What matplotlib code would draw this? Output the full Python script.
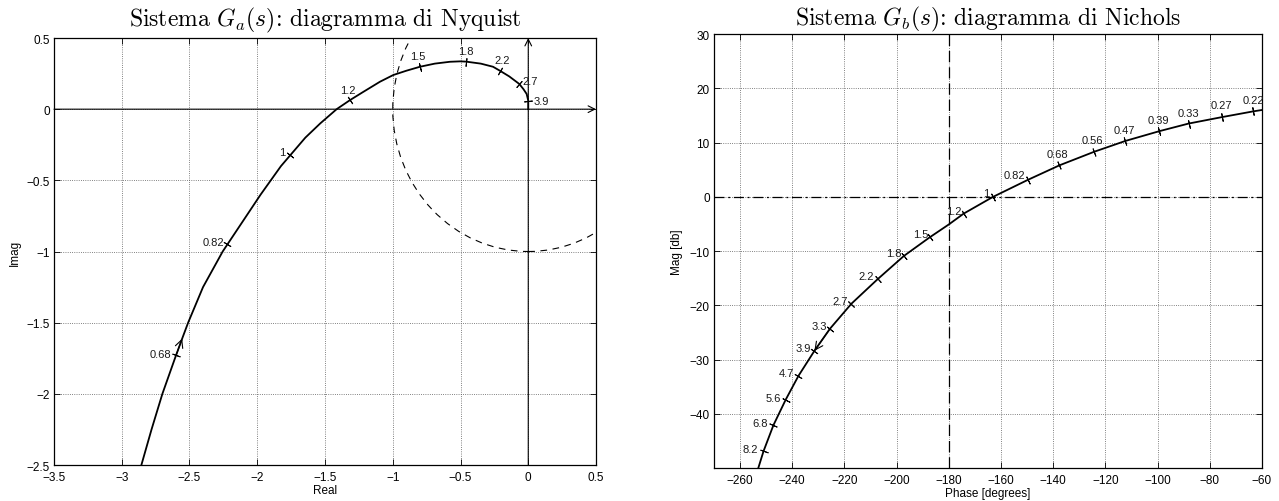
import matplotlib
matplotlib.use("Agg")
import matplotlib.pyplot as plt
from matplotlib.patches import Circle
from matplotlib.ticker import FuncFormatter
import numpy as np

plt.rcParams['font.family'] = ['Liberation Sans', 'DejaVu Sans']
plt.rcParams['mathtext.fontset'] = 'cm'

# Nyquist di G_a(jw): punti della curva (parte reale, parte immaginaria)
nyq_re = [-2.855, -2.780, -2.700, -2.607, -2.599, -2.554, -2.510, -2.400, -2.255, -2.115,
          -1.975, -1.825, -1.645, -1.535, -1.414, -1.315, -1.220, -1.094, -0.996, -0.900,
          -0.799, -0.690, -0.578, -0.500, -0.459, -0.350, -0.260, -0.209, -0.140, -0.066,
          -0.035, -0.012, 0.000, 0.000]
nyq_im = [-2.500, -2.250, -2.000, -1.750, -1.729, -1.612, -1.500, -1.250, -1.000, -0.800,
          -0.600, -0.400, -0.200, -0.100, 0.000, 0.064, 0.120, 0.193, 0.240, 0.270,
          0.298, 0.320, 0.333, 0.336, 0.334, 0.320, 0.298, 0.270, 0.230, 0.177,
          0.140, 0.107, 0.060, 0.000]

# pulsazioni marcate sul diagramma di Nyquist
nyq_w = ['0.68', '0.82', '1', '1.2', '1.5', '1.8', '2.2', '2.7', '3.9']
nyq_w_re = [-2.599, -2.220, -1.755, -1.315, -0.799, -0.459, -0.209, -0.066, 0.000]
nyq_w_im = [-1.729, -0.946, -0.319, 0.064, 0.298, 0.334, 0.270, 0.177, 0.060]

# Nichols di G_b(jw): fase [gradi], modulo [db]
nic_ph = [-253.0, -251.0, -247.2, -242.5, -237.6, -231.5, -225.5, -217.3, -207.3, -197.2,
          -187.4, -180.0, -174.3, -163.2, -149.8, -137.6, -124.3, -112.3, -99.3, -88.1,
          -75.2, -63.3, -60.0]
nic_mag = [-50.0, -46.9, -42.1, -37.4, -33.0, -28.4, -24.3, -19.7, -15.2, -10.9,
           -7.5, -5.1, -3.1, -0.05, 3.1, 5.8, 8.3, 10.3, 12.1, 13.5,
           14.7, 15.75, 16.0]

nic_w = ['0.22', '0.27', '0.33', '0.39', '0.47', '0.56', '0.68', '0.82', '1', '1.2',
         '1.5', '1.8', '2.2', '2.7', '3.3', '3.9', '4.7', '5.6', '6.8', '8.2']
nic_w_ph = [-63.3, -75.2, -88.1, -99.3, -112.3, -124.3, -137.6, -149.8, -163.2, -174.3,
            -187.4, -197.2, -207.3, -217.3, -225.5, -231.5, -237.6, -242.5, -247.2, -251.0]
nic_w_mag = [15.75, 14.7, 13.5, 12.1, 10.3, 8.3, 5.8, 3.1, -0.05, -3.1,
             -7.5, -10.9, -15.2, -19.7, -24.3, -28.4, -33.0, -37.4, -42.1, -46.9]

# spostamento delle etichette rispetto al tick (pixel)
nyq_off = [(-16, 1), (-14, 2), (-8, 3), (-2, 10), (-2, 11), (0, 11), (2, 11), (11, 3), (13, 0)]
nic_off = [(0, 11), (-1, 12), (0, 11), (-1, 11), (-1, 11), (-2, 12), (-2, 11), (-13, 5), (-6, 4),
           (-10, 3), (-9, 3), (-10, 3), (-11, 3), (-11, 3), (-11, 3), (-11, 3), (-12, 3),
           (-12, 2), (-13, 2), (-13, 2)]

tick_fs = 8.5
lab_fs = 8

fig = plt.figure(figsize=(12.79, 5.02), dpi=100)
ax0 = fig.add_axes([0.0422, 0.0717, 0.4238, 0.8506])
ax1 = fig.add_axes([0.5582, 0.0657, 0.4285, 0.8645])


def fmt(v, pos):
    s = '%g' % v
    return s.replace('-', '\u2212')


def setup(ax):
    ax.grid(True, linestyle=':', color='0.35', linewidth=0.6)
    ax.set_axisbelow(True)
    ax.tick_params(direction='in', length=4, width=0.6, labelsize=tick_fs,
                   top=True, right=True, pad=4)
    ax.tick_params(axis='y', pad=3)
    ax.xaxis.set_major_formatter(FuncFormatter(fmt))
    ax.yaxis.set_major_formatter(FuncFormatter(fmt))
    for sp in ax.spines.values():
        sp.set_linewidth(0.9)


def tick_angles(ax, cx, cy, px, py):
    pts = ax.transData.transform(np.column_stack([cx, cy]))
    out = []
    for x, y in zip(px, py):
        p = ax.transData.transform((x, y))
        i = int(np.argmin(np.hypot(pts[:, 0] - p[0], pts[:, 1] - p[1])))
        a = pts[max(i - 1, 0)]
        b = pts[min(i + 1, len(pts) - 1)]
        out.append(np.degrees(np.arctan2(b[1] - a[1], b[0] - a[0])))
    return out


def mark_freqs(ax, cx, cy, px, py, names, offs):
    angs = tick_angles(ax, cx, cy, px, py)
    for x, y, t, a, o in zip(px, py, names, angs, offs):
        ax.plot(x, y, marker=(2, 2, a), ms=6, mew=0.7, color='k', zorder=4)
        ax.annotate(t, (x, y), xytext=o, textcoords='offset pixels',
                    ha='center', va='center', fontsize=lab_fs, color='0.1')


# ---- Nyquist ----
setup(ax0)
ax0.set_xlim(-3.5, 0.5)
ax0.set_ylim(-2.5, 0.5)
ax0.set_xticks(np.arange(-3.5, 0.51, 0.5))
ax0.set_yticks(np.arange(-2.5, 0.51, 0.5))

ax0.annotate('', xy=(0.5, 0), xytext=(-3.5, 0),
             arrowprops=dict(arrowstyle='->', lw=0.8, color='k', shrinkA=0, shrinkB=0,
                             mutation_scale=12))
ax0.annotate('', xy=(0, 0.5), xytext=(0, -2.5),
             arrowprops=dict(arrowstyle='->', lw=0.8, color='k', shrinkA=0, shrinkB=0,
                             mutation_scale=12))
ax0.add_patch(Circle((0, 0), 1, fill=False, linestyle=(0, (6, 5)), linewidth=0.8, color='k'))
ax0.plot(nyq_re, nyq_im, color='k', lw=1.3, zorder=3)
ax0.annotate('', xy=(nyq_re[5], nyq_im[5]), xytext=(nyq_re[4], nyq_im[4]),
             arrowprops=dict(arrowstyle='->', lw=0.8, color='k', shrinkA=0, shrinkB=0,
                             mutation_scale=14))
mark_freqs(ax0, nyq_re, nyq_im, nyq_w_re, nyq_w_im, nyq_w, nyq_off)

ax0.set_xlabel('Real', fontsize=tick_fs, labelpad=1)
ax0.set_ylabel('Imag', fontsize=tick_fs, labelpad=4)
ax0.set_title(r'Sistema $G_a(s)$: diagramma di Nyquist', fontsize=17, family='cmr10', pad=9)

# ---- Nichols ----
setup(ax1)
ax1.set_xlim(-270, -60)
ax1.set_ylim(-50, 30)
ax1.set_xticks(np.arange(-260, -59, 20))
ax1.set_yticks(np.arange(-40, 31, 10))

ax1.axvline(-180, color='k', linestyle=(0, (9, 4)), lw=0.9)
ax1.axhline(0, color='k', linestyle=(0, (8, 3, 1.5, 3)), lw=0.9)
ax1.plot(nic_ph, nic_mag, color='k', lw=1.3, zorder=3)
ax1.annotate('', xy=(nic_w_ph[15], nic_w_mag[15]), xytext=(nic_w_ph[14], nic_w_mag[14]),
             arrowprops=dict(arrowstyle='->', lw=0.8, color='k', shrinkA=0, shrinkB=0,
                             mutation_scale=14))
mark_freqs(ax1, nic_ph, nic_mag, nic_w_ph, nic_w_mag, nic_w, nic_off)

ax1.set_xlabel('Phase [degrees]', fontsize=tick_fs, labelpad=1)
ax1.set_ylabel('Mag [db]', fontsize=tick_fs, labelpad=5)
ax1.set_title(r'Sistema $G_b(s)$: diagramma di Nichols', fontsize=17, family='cmr10', pad=7)

fig.savefig('out.png', dpi=100)
